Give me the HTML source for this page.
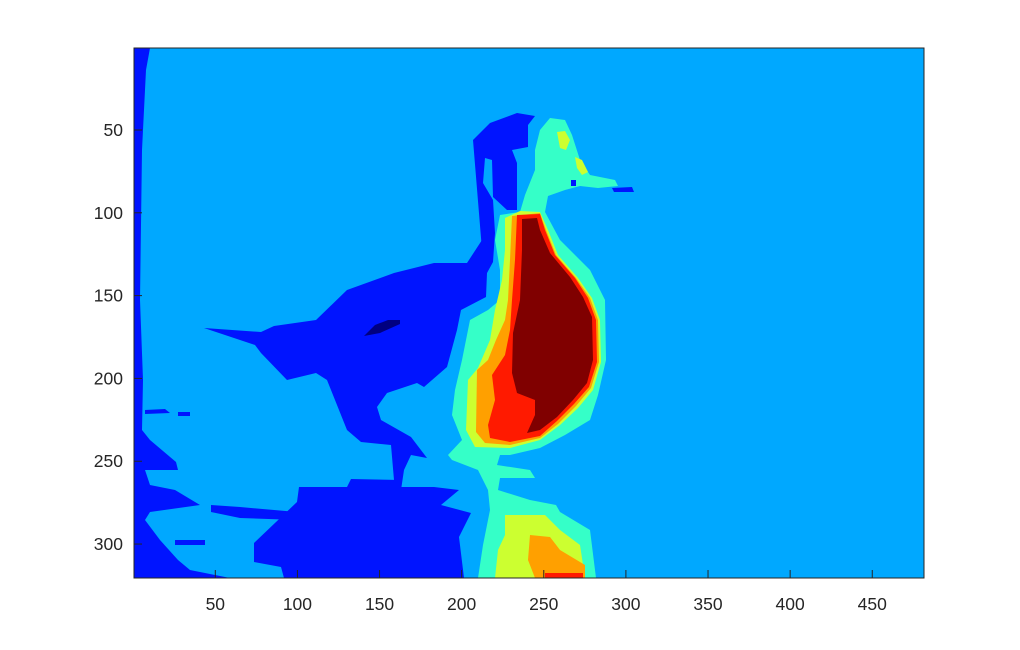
<!DOCTYPE html>
<html><head><meta charset="utf-8"><style>
body{margin:0;background:#fff;width:1020px;height:650px;overflow:hidden}
svg{display:block}
text{font-family:"Liberation Sans",sans-serif;font-size:17.5px;fill:#262626}
</style></head><body>
<svg id="chart" width="1020" height="650">
<defs><clipPath id="clip"><rect x="134" y="48" width="790" height="530"/></clipPath></defs>
<g clip-path="url(#clip)">
<rect x="134" y="48" width="790" height="530" fill="#00a8ff"/>
<polygon fill="#35ffc8" points="550,118 565,120 572,135 580,160 590,175 615,180 618,186 598,188 580,186 565,190 548,196 545,212 560,240 590,270 605,300 606,360 598,395 590,420 565,435 540,448 510,455 500,455 497,465 530,470 535,478 500,478 498,490 530,500 556,505 560,512 590,530 596,578 478,578 483,545 490,510 488,490 478,470 452,460 448,455 462,440 452,415 455,390 462,360 470,320 488,310 500,300 500,270 495,240 500,215 520,212 525,195 535,170 535,150 540,130"/>
<polygon fill="#ccff30" points="557,132 565,131 570,140 566,150 560,148"/>
<polygon fill="#ccff30" points="575,157 582,160 588,172 582,175 577,168"/>
<polygon fill="#ccff30" points="505,218 520,211 540,212 548,230 558,255 578,278 592,298 600,320 601,362 593,390 578,408 560,425 540,440 510,448 475,447 466,430 468,380 478,368 490,340 495,310 502,280 505,250"/>
<polygon fill="#ccff30" points="505,515 545,515 560,530 580,545 585,578 495,578 498,550 505,535"/>
<polygon fill="#ffa000" points="512,216 540,213 546,230 556,255 576,278 590,298 598,320 599,362 591,388 576,406 558,424 540,438 510,445 485,443 476,432 477,370 488,360 496,340 505,320 508,300 510,260"/>
<polygon fill="#ffa000" points="530,535 550,537 560,550 585,565 585,578 535,578 528,560"/>
<polygon fill="#ff1a00" points="517,215 540,214 545,230 555,255 575,278 588,298 596,320 597,362 589,387 574,404 557,421 540,436 510,442 490,438 488,425 495,400 492,375 505,355 510,330 512,300 515,260"/>
<polygon fill="#ff1a00" points="545,573 583,573 583,578 545,578"/>
<polygon fill="#800000" points="522,219 537,218 540,230 550,253 570,277 583,297 592,317 593,360 587,383 573,400 557,417 540,430 527,433 535,415 535,400 517,393 512,373 513,333 520,300 522,250"/>
<g fill="#0014ff">
<polygon points="134,48 150,48 146,70 142,150 140,300 143,380 142,430 150,440 176,462 145,470 150,485 175,490 200,505 150,512 145,520 160,540 178,560 190,570 230,578 134,578"/>
<polygon points="473,140 490,123 517,113 535,116 528,125 528,147 512,150 517,163 517,210 507,210 493,197 492,160 485,158 483,183 493,200 495,233 493,262 487,273 482,250"/>
<polygon points="204,328 261,332 274,326 316,320 347,290 394,273 434,263 467,263 482,240 490,250 487,273 486,297 461,310 457,330 447,367 424,387 417,383 387,393 377,407 381,420 411,437 427,458 411,455 404,470 401,490 394,480 391,445 361,442 347,430 327,380 316,373 287,380 261,353 255,345"/>
<polygon points="299,487 347,487 351,479 401,480 401,487 434,487 459,490 441,505 471,513 459,537 464,578 284,578 281,567 254,562 254,543 297,502"/>
<polygon points="211,505 240,507 297,512 297,520 240,518 211,512"/>
<polygon points="145,410 165,409 170,413 145,414"/>
<polygon points="178,412 190,412 190,416 178,416"/>
<polygon points="140,460 176,462 178,470 145,470"/>
<polygon points="175,540 205,540 205,545 175,545"/>
<polygon points="612,188 632,187 634,192 614,192"/>
<polygon points="571,180 576,180 576,186 571,186"/>
</g>
<polygon fill="#000080" points="364,336 375,325 388,320 400,320 400,324 380,333"/>
</g>
<rect x="134" y="48" width="790" height="530" fill="none" stroke="#262626" stroke-width="1"/>
<g id="xt"></g>
<g id="yt"></g>
</svg>
<script>
const xTicks=[50,100,150,200,250,300,350,400,450];
const yTicks=[50,100,150,200,250,300];
const x0=134,x1=924,y0=48,y1=578,W=481,H=320;
const sx=v=>x0+(v-0.5)*(x1-x0)/W;
const sy=v=>y0+(v-0.5)*(y1-y0)/H;
const ns="http://www.w3.org/2000/svg";
const xt=document.getElementById('xt'),yt=document.getElementById('yt');
xTicks.forEach(v=>{
 const l=document.createElementNS(ns,'line');
 l.setAttribute('x1',sx(v));l.setAttribute('x2',sx(v));l.setAttribute('y1',y1);l.setAttribute('y2',y1-8);l.setAttribute('stroke','#262626');
 
 
 xt.appendChild(l);
 const t=document.createElementNS(ns,'text');
 t.setAttribute('x',sx(v));t.setAttribute('y',610);t.setAttribute('text-anchor','middle');t.textContent=v;
 
 
 xt.appendChild(t);
});
yTicks.forEach(v=>{
 const l=document.createElementNS(ns,'line');
 l.setAttribute('x1',x0);l.setAttribute('x2',x0+8);l.setAttribute('y1',sy(v));l.setAttribute('y2',sy(v));l.setAttribute('stroke','#262626');
 
 
 yt.appendChild(l);
 const t=document.createElementNS(ns,'text');
 t.setAttribute('x',123);t.setAttribute('y',sy(v)+6);t.setAttribute('text-anchor','end');t.textContent=v;
 
 
 yt.appendChild(t);
});
</script>
</body></html>
